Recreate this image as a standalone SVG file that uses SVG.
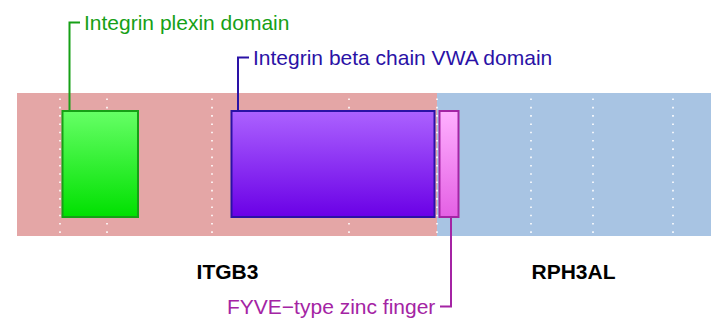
<svg xmlns="http://www.w3.org/2000/svg" width="719" height="326" viewBox="0 0 719 326">
<style>
.lbl{font-family:"Liberation Sans",Arial,sans-serif;font-size:21px}
.gene{font-family:"Liberation Sans",Arial,sans-serif;font-size:21px;font-weight:bold;fill:#000}
.grid{stroke:#ffffff;stroke-width:1.6;stroke-dasharray:1.6 6.7;fill:none}
.dom{stroke-width:2}
.call{fill:none;stroke-width:2}
</style>
<defs>
<linearGradient id="gG" x1="0" y1="0" x2="0" y2="1"><stop offset="0" stop-color="#66ff66"/><stop offset="1" stop-color="#00e000"/></linearGradient>
<linearGradient id="gP" x1="0" y1="0" x2="0" y2="1"><stop offset="0" stop-color="#ac62ff"/><stop offset="1" stop-color="#6a00e6"/></linearGradient>
<linearGradient id="gM" x1="0" y1="0" x2="0" y2="1"><stop offset="0" stop-color="#ffb0ff"/><stop offset="1" stop-color="#e460e4"/></linearGradient>
</defs>
<g id="genes">
<rect x="17" y="93" width="420" height="143" fill="#e4a6a6"/>
<rect x="437" y="93" width="274" height="143" fill="#a8c4e3"/>
</g>
<g id="grid">
<line class="grid" x1="60" y1="98.5" x2="60" y2="235"/>
<line class="grid" x1="107" y1="98.5" x2="107" y2="235"/>
<line class="grid" x1="212" y1="98.5" x2="212" y2="235"/>
<line class="grid" x1="349" y1="98.5" x2="349" y2="235"/>
<line class="grid" x1="437" y1="98.5" x2="437" y2="235"/>
<line class="grid" x1="531" y1="98.5" x2="531" y2="235"/>
<line class="grid" x1="593" y1="98.5" x2="593" y2="235"/>
<line class="grid" x1="673" y1="98.5" x2="673" y2="235"/>
</g>
<g id="connectors">
<polyline class="call" stroke="#16a016" points="69.5,111 69.5,22.5 80,22.5"/>
<polyline class="call" stroke="#2a12a6" points="238,111 238,57.5 249,57.5"/>
<polyline class="call" stroke="#a424a4" points="451,217 451,306.5 440,306.5"/>
</g>
<g id="plexin">
<rect class="dom" x="62.5" y="111" width="75.5" height="106" fill="url(#gG)" stroke="#16a016"/>
<text class="lbl" x="84" y="29.5" fill="#16a016">Integrin plexin domain</text>
</g>
<g id="vwa">
<rect class="dom" x="231.5" y="111" width="203" height="106" fill="url(#gP)" stroke="#2a12a6"/>
<text class="lbl" x="253" y="64.5" fill="#2a12a6">Integrin beta chain VWA domain</text>
</g>
<g id="fyve">
<rect class="dom" x="439.5" y="111" width="19" height="106" fill="url(#gM)" stroke="#a424a4"/>
<text class="lbl" x="227" y="313.5" fill="#a424a4">FYVE−type zinc finger</text>
</g>
<g id="labels">
<text class="gene" x="227.5" y="279" text-anchor="middle">ITGB3</text>
<text class="gene" x="573.5" y="279" text-anchor="middle">RPH3AL</text>
</g>
</svg>
